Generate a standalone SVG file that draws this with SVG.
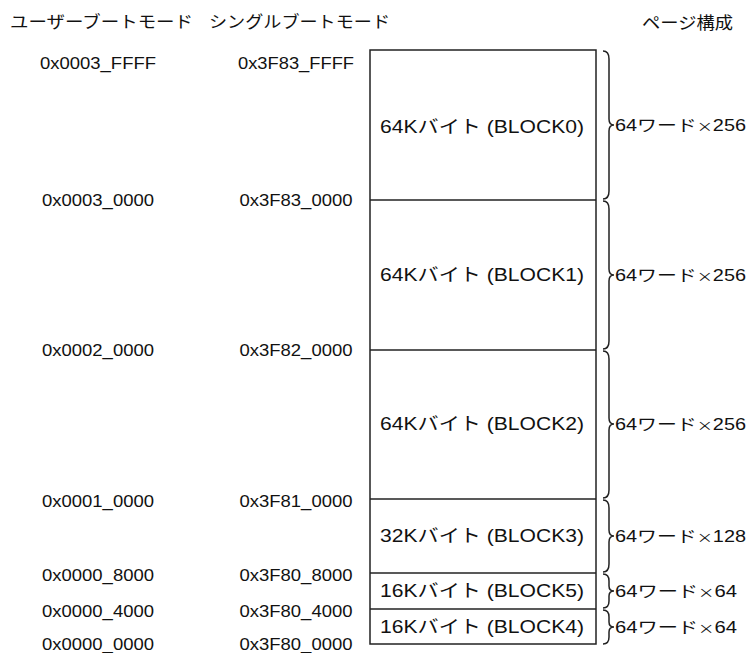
<svg xmlns="http://www.w3.org/2000/svg" width="749" height="653" viewBox="0 0 749 653">
<style>
text{font-family:"Liberation Sans","Noto Sans CJK JP",sans-serif;fill:#111;}
.h{font-size:16.5px;}
.a{font-size:16.5px;text-anchor:middle;}
.b{font-size:18px;text-anchor:middle;}
.p{font-size:16px;}
.x{font-family:"Noto Sans CJK JP",sans-serif;font-size:13px;}
.box{fill:#fff;stroke:#222;stroke-width:1.5;}
.div{stroke:#222;stroke-width:1.5;fill:none;}
.br{stroke:#222;stroke-width:1.5;fill:none;}
</style>
<g id="headers">
<text class="h" x="10" y="28" textLength="183" lengthAdjust="spacingAndGlyphs">ユーザーブートモード</text>
<text class="h" x="209" y="28" textLength="181" lengthAdjust="spacingAndGlyphs">シングルブートモード</text>
<text class="h" x="642" y="29" textLength="91" lengthAdjust="spacingAndGlyphs">ページ構成</text>
</g>
<g id="addr-user">
<text class="a" x="98" y="69" textLength="116" lengthAdjust="spacingAndGlyphs">0x0003_FFFF</text>
<text class="a" x="98" y="206" textLength="112" lengthAdjust="spacingAndGlyphs">0x0003_0000</text>
<text class="a" x="98" y="356" textLength="112" lengthAdjust="spacingAndGlyphs">0x0002_0000</text>
<text class="a" x="98" y="507" textLength="112" lengthAdjust="spacingAndGlyphs">0x0001_0000</text>
<text class="a" x="98" y="581" textLength="112" lengthAdjust="spacingAndGlyphs">0x0000_8000</text>
<text class="a" x="98" y="617" textLength="112" lengthAdjust="spacingAndGlyphs">0x0000_4000</text>
<text class="a" x="98" y="650" textLength="112" lengthAdjust="spacingAndGlyphs">0x0000_0000</text>
</g>
<g id="addr-single">
<text class="a" x="296" y="69" textLength="116" lengthAdjust="spacingAndGlyphs">0x3F83_FFFF</text>
<text class="a" x="296" y="206" textLength="113" lengthAdjust="spacingAndGlyphs">0x3F83_0000</text>
<text class="a" x="296" y="356" textLength="113" lengthAdjust="spacingAndGlyphs">0x3F82_0000</text>
<text class="a" x="296" y="507" textLength="113" lengthAdjust="spacingAndGlyphs">0x3F81_0000</text>
<text class="a" x="296" y="581" textLength="113" lengthAdjust="spacingAndGlyphs">0x3F80_8000</text>
<text class="a" x="296" y="617" textLength="113" lengthAdjust="spacingAndGlyphs">0x3F80_4000</text>
<text class="a" x="296" y="650" textLength="113" lengthAdjust="spacingAndGlyphs">0x3F80_0000</text>
</g>
<g id="memory">
<rect class="box" x="370" y="50" width="226" height="594"/>
<g id="block0"><text class="b" x="482" y="133" textLength="204" lengthAdjust="spacingAndGlyphs">64Kバイト (BLOCK0)</text></g>
<g id="block1"><line class="div" x1="370" y1="200" x2="596" y2="200"/><text class="b" x="482" y="281" textLength="204" lengthAdjust="spacingAndGlyphs">64Kバイト (BLOCK1)</text></g>
<g id="block2"><line class="div" x1="370" y1="350" x2="596" y2="350"/><text class="b" x="482" y="430" textLength="204" lengthAdjust="spacingAndGlyphs">64Kバイト (BLOCK2)</text></g>
<g id="block3"><line class="div" x1="370" y1="499" x2="596" y2="499"/><text class="b" x="482" y="542" textLength="204" lengthAdjust="spacingAndGlyphs">32Kバイト (BLOCK3)</text></g>
<g id="block5"><line class="div" x1="370" y1="573" x2="596" y2="573"/><text class="b" x="482" y="597" textLength="204" lengthAdjust="spacingAndGlyphs">16Kバイト (BLOCK5)</text></g>
<g id="block4"><line class="div" x1="370" y1="609" x2="596" y2="609"/><text class="b" x="482" y="633" textLength="204" lengthAdjust="spacingAndGlyphs">16Kバイト (BLOCK4)</text></g>
</g>
<g id="braces">
<path class="br" d="M603,51 Q609,51 609,59 L609,119 Q609,125 614,125 Q609,125 609,131 L609,191 Q609,199 603,199"/>
<path class="br" d="M603,201 Q609,201 609,209 L609,269 Q609,275 614,275 Q609,275 609,281 L609,341 Q609,349 603,349"/>
<path class="br" d="M603,351 Q609,351 609,359 L609,418 Q609,424 614,424 Q609,424 609,430 L609,490 Q609,498 603,498"/>
<path class="br" d="M603,500 Q609,500 609,508 L609,530 Q609,536 614,536 Q609,536 609,542 L609,564 Q609,572 603,572"/>
<path class="br" d="M603,574 Q609,574 609,581 L609,586 Q609,591 614,591 Q609,591 609,596 L609,601 Q609,608 603,608"/>
<path class="br" d="M603,610 Q609,610 609,617 L609,622 Q609,627 614,627 Q609,627 609,632 L609,637 Q609,644 603,644"/>
</g>
<g id="pages">
<text class="p" x="615" y="131" textLength="131" lengthAdjust="spacingAndGlyphs">64ワード<tspan class="x">×</tspan>256</text>
<text class="p" x="615" y="281" textLength="131" lengthAdjust="spacingAndGlyphs">64ワード<tspan class="x">×</tspan>256</text>
<text class="p" x="615" y="430" textLength="131" lengthAdjust="spacingAndGlyphs">64ワード<tspan class="x">×</tspan>256</text>
<text class="p" x="615" y="542" textLength="131" lengthAdjust="spacingAndGlyphs">64ワード<tspan class="x">×</tspan>128</text>
<text class="p" x="615" y="597" textLength="122" lengthAdjust="spacingAndGlyphs">64ワード<tspan class="x">×</tspan>64</text>
<text class="p" x="615" y="633" textLength="122" lengthAdjust="spacingAndGlyphs">64ワード<tspan class="x">×</tspan>64</text>
</g>
</svg>
